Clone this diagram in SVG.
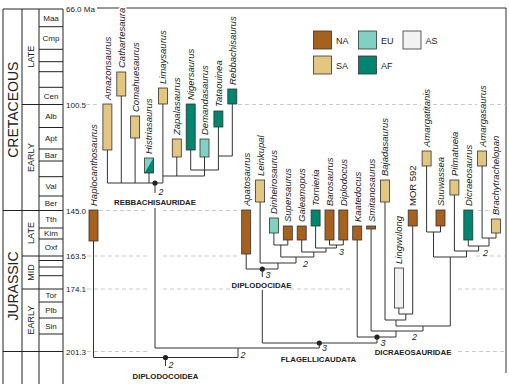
<svg xmlns="http://www.w3.org/2000/svg" width="509" height="386" viewBox="0 0 509 386">
<style>
.ln{stroke:#333;stroke-width:1;fill:none}
.ts{stroke:#222;stroke-width:1;fill:none}
.dash{stroke:#bbb;stroke-width:0.8;stroke-dasharray:4 3;fill:none}
.bar{stroke:#333;stroke-width:0.8}
.na{fill:#a6611e}.sa{fill:#e2c682}.eu{fill:#80d1c1}.af{fill:#00866f}.as{fill:#f2f2f2}
text{font-family:"Liberation Sans",Arial,sans-serif;fill:#222}
.tx{font-size:9.5px;font-style:italic;stroke:#fff;stroke-width:3;paint-order:stroke}
.mor{font-size:9.5px;stroke:#fff;stroke-width:3;paint-order:stroke}
.cl{font-size:7.8px;font-weight:bold;text-anchor:middle}
.num{font-size:9px;font-style:italic}
.age{font-size:8px;text-anchor:middle}
.ma{font-size:8px}
.ep{font-size:9px;text-anchor:middle}
.per{font-size:14px;text-anchor:middle}
.lg{font-size:9px}
</style>
<defs>
<circle id="dot" r="2.6" fill="#222"/>
</defs>
<rect width="509" height="386" fill="#fff"/>

<g id="timescale">
<path class="ts" d="M3 9V384M22 9V384M39 9V384M63 9V384M3 9H63M3 210.5H63M3 351.5H63M22 104.5H63M22 256H63M22 289H63"/>
<path class="ts" d="M39 26.7H63M39 49.3H63M39 61.7H63M39 71.7H63M39 87.3H63M39 127.5H63M39 149H63M39 161H63M39 176.7H63M39 196H63M39 228H63M39 239H63M39 260.5H63M39 267H63M39 275.7H63M39 302H63M39 318H63M39 334H63"/>
<text class="per" transform="translate(17.5,109.7) rotate(-90)">CRETACEOUS</text>
<text class="per" transform="translate(17.5,286) rotate(-90)">JURASSIC</text>
<text class="ep" transform="translate(33.7,56.7) rotate(-90)">LATE</text>
<text class="ep" transform="translate(33.7,157.5) rotate(-90)">EARLY</text>
<text class="ep" transform="translate(33.7,233) rotate(-90)">LATE</text>
<text class="ep" transform="translate(33.7,272.5) rotate(-90)">MID</text>
<text class="ep" transform="translate(33.7,320) rotate(-90)">EARLY</text>
<text class="age" x="51" y="20.5">Maa</text>
<text class="age" x="51" y="40.5">Cmp</text>
<text class="age" x="51" y="98.5">Cen</text>
<text class="age" x="51" y="118.5">Alb</text>
<text class="age" x="51" y="141">Apt</text>
<text class="age" x="51" y="157.5">Bar</text>
<text class="age" x="51" y="189">Val</text>
<text class="age" x="51" y="206">Ber</text>
<text class="age" x="51" y="222">Tth</text>
<text class="age" x="51" y="236">Kim</text>
<text class="age" x="51" y="250">Oxf</text>
<text class="age" x="51" y="298">Tor</text>
<text class="age" x="51" y="312.5">Plb</text>
<text class="age" x="51" y="328.5">Sin</text>
<text class="ma" x="66" y="11.5">66.0 Ma</text>
<text class="ma" x="66" y="107.5">100.5</text>
<text class="ma" x="66" y="213.5">145.0</text>
<text class="ma" x="66" y="259">163.5</text>
<text class="ma" x="66" y="292">174.1</text>
<text class="ma" x="66" y="354.5">201.3</text>
</g>

<g id="frame">
<path class="ln" d="M97 8H506V373"/>
<path class="dash" d="M86 104.5H98M238 104.5H421M433 104.5H477M490 104.5H506M99 210.5H147M163 210.5H237M478 210.5H488M87 256H147M163 256H237M476 256H506M87 289H147M163 289H237M283 289H352M458 289H506M87 351.5H147M458 351.5H506"/>
</g>

<g id="legend">
<rect class="bar na" x="313.5" y="31" width="18" height="18"/><text class="lg" x="336" y="43.5">NA</text>
<rect class="bar sa" x="313.5" y="56" width="18" height="18"/><text class="lg" x="336" y="68.5">SA</text>
<rect class="bar eu" x="358.5" y="31" width="18" height="18"/><text class="lg" x="381" y="43.5">EU</text>
<rect class="bar af" x="358.5" y="56" width="18" height="18"/><text class="lg" x="381" y="68.5">AF</text>
<rect class="bar as" x="403" y="31" width="18" height="18"/><text class="lg" x="425.5" y="43.5">AS</text>
</g>

<g id="connectors">
<path class="ln" d="M93.5 241V357.5H238M238 348V357.5M165.5 357.5V366"/>
<path class="ln" d="M107.4 150V183M121.3 96V183M135.1 138V183M149 173V183M162.9 104V183M107.4 183H162.9M155 183V193M155 208V348H319.3V343"/>
<path class="ln" d="M162.9 176H204.5M176.8 157V176M190.7 150V170M204.5 157V176M190.7 170H218.4M218.4 127V170M218.4 156H232.3M232.3 104V156"/>
<path class="ln" d="M246.2 254V269H278M262.3 269V277M262.3 290V343H377V337"/>
<path class="ln" d="M260.1 202V263H296M273.9 233V245H287.8M287.8 240V245M280.8 245V257M301.7 240V252M315.6 226V248M329.5 240V245H343.3V240M336.4 245V248M315.6 248H336.4M326 248V252M301.7 252H326M313.8 252V257M280.8 257H313.8M296 257V263M278 263V269"/>
<path class="ln" d="M357.2 240V337H396M371.1 229V331H423M396 331V337M385 202V320M398.9 308V314H412.7V226M405.8 314V320M385 320H405.8M396 320V326H450.3M423 326V331"/>
<path class="ln" d="M426.6 166V232H440.5V226M433.5 232V257M454.4 195V251M468.3 240V246M482.1 166V238H496V233M489 238V246M468.3 246H489M478.6 246V251M454.4 251H478.6M466.5 251V257M433.5 257H466.5M450.3 257V326"/>
</g>

<g id="nodes-dots">
<use href="#dot" x="155" y="183"/>
<use href="#dot" x="165.5" y="357.5"/>
<use href="#dot" x="262.3" y="269"/>
<use href="#dot" x="319.3" y="343"/>
<use href="#dot" x="377" y="337"/>
</g>

<g id="clade-labels">
<text class="cl" x="155" y="204.5">REBBACHISAURIDAE</text>
<text class="cl" x="261.5" y="287.5">DIPLODOCIDAE</text>
<text class="cl" x="318.5" y="361.5">FLAGELLICAUDATA</text>
<text class="cl" x="413" y="355">DICRAEOSAURIDAE</text>
<text class="cl" x="165.5" y="378.5">DIPLODOCOIDEA</text>
<text class="num" x="158.5" y="194.5">2</text>
<text class="num" x="168.5" y="367.5">2</text>
<text class="num" x="240.5" y="358">2</text>
<text class="num" x="265.5" y="277.5">3</text>
<text class="num" x="322" y="351">3</text>
<text class="num" x="380.5" y="346">3</text>
<text class="num" x="412" y="340">2</text>
<text class="num" x="483" y="255.5">2</text>
<text class="num" x="339" y="255">3</text>
<text class="num" x="303" y="267">2</text>
</g>

<g id="n-haplocanthosaurus"><rect class="bar na" x="89" y="210" width="9" height="31"/><text class="tx" transform="translate(96.9,206) rotate(-90)">Haplocanthosaurus</text></g>
<g id="n-amazonsaurus"><rect class="bar sa" x="102.9" y="104" width="9" height="46"/><text class="tx" transform="translate(110.8,100) rotate(-90)">Amazonsaurus</text></g>
<g id="n-cathartesaura"><rect class="bar sa" x="116.8" y="72" width="9" height="24"/><text class="tx" transform="translate(124.7,68) rotate(-90)">Cathartesaura</text></g>
<g id="n-comahuesaurus"><rect class="bar sa" x="130.6" y="116" width="9" height="22"/><text class="tx" transform="translate(138.5,112) rotate(-90)">Comahuesaurus</text></g>
<g id="n-histriasaurus"><rect class="eu" x="144.5" y="158" width="9" height="15"/><polygon class="af" points="144.5,173 153.5,158 153.5,173"/><rect class="bar" fill="none" x="144.5" y="158" width="9" height="15"/><text class="tx" transform="translate(152.4,154) rotate(-90)">Histriasaurus</text></g>
<g id="n-limaysaurus"><rect class="bar sa" x="158.4" y="88" width="9" height="16"/><text class="tx" transform="translate(166.3,84) rotate(-90)">Limaysaurus</text></g>
<g id="n-zapalasaurus"><rect class="bar sa" x="172.3" y="139" width="9" height="18"/><text class="tx" transform="translate(180.2,135) rotate(-90)">Zapalasaurus</text></g>
<g id="n-nigersaurus"><rect class="bar af" x="186.2" y="104" width="9" height="46"/><text class="tx" transform="translate(194.1,100) rotate(-90)">Nigersaurus</text></g>
<g id="n-demandasaurus"><rect class="bar eu" x="200" y="139" width="9" height="18"/><text class="tx" transform="translate(207.9,135) rotate(-90)">Demandasaurus</text></g>
<g id="n-tataouinea"><rect class="bar af" x="213.9" y="111" width="9" height="16"/><text class="tx" transform="translate(221.8,107) rotate(-90)">Tataouinea</text></g>
<g id="n-rebbachisaurus"><rect class="bar af" x="227.8" y="89" width="9" height="15"/><text class="tx" transform="translate(235.7,85) rotate(-90)">Rebbachisaurus</text></g>
<g id="n-apatosaurus"><rect class="bar na" x="241.7" y="210" width="9" height="44"/><text class="tx" transform="translate(249.6,206) rotate(-90)">Apatosaurus</text></g>
<g id="n-leinkupal"><rect class="bar sa" x="255.6" y="180" width="9" height="22"/><text class="tx" transform="translate(263.5,176) rotate(-90)">Leinkupal</text></g>
<g id="n-dinheirosaurus"><rect class="bar eu" x="269.4" y="218" width="9" height="15"/><text class="tx" transform="translate(277.3,214) rotate(-90)">Dinheirosaurus</text></g>
<g id="n-supersaurus"><rect class="bar na" x="283.3" y="226" width="9" height="14"/><text class="tx" transform="translate(291.2,222) rotate(-90)">Supersaurus</text></g>
<g id="n-galeamopus"><rect class="bar na" x="297.2" y="226" width="9" height="14"/><text class="tx" transform="translate(305.1,222) rotate(-90)">Galeamopus</text></g>
<g id="n-tornieria"><rect class="bar af" x="311.1" y="210" width="9" height="16"/><text class="tx" transform="translate(319,206) rotate(-90)">Tornieria</text></g>
<g id="n-barosaurus"><rect class="bar na" x="325" y="210" width="9" height="30"/><text class="tx" transform="translate(332.9,206) rotate(-90)">Barosaurus</text></g>
<g id="n-diplodocus"><rect class="bar na" x="338.8" y="210" width="9" height="30"/><text class="tx" transform="translate(346.7,206) rotate(-90)">Diplodocus</text></g>
<g id="n-kaatedocus"><rect class="bar na" x="352.7" y="226" width="9" height="14"/><text class="tx" transform="translate(360.6,222) rotate(-90)">Kaatedocus</text></g>
<g id="n-smitanosaurus"><rect class="bar na" x="366.6" y="226" width="9" height="3"/><text class="tx" transform="translate(374.5,222) rotate(-90)">Smitanosaurus</text></g>
<g id="n-bajadasaurus"><rect class="bar sa" x="380.5" y="180" width="9" height="22"/><text class="tx" transform="translate(388.4,176) rotate(-90)">Bajadasaurus</text></g>
<g id="n-lingwulong"><rect class="bar as" x="394.4" y="268" width="9" height="40"/><text class="tx" transform="translate(402.3,264) rotate(-90)">Lingwulong</text></g>
<g id="n-mor592"><rect class="bar na" x="408.2" y="210" width="9" height="16"/><text class="mor" transform="translate(416.1,206) rotate(-90)">MOR 592</text></g>
<g id="n-amargatitanis"><rect class="bar sa" x="422.1" y="151" width="9" height="15"/><text class="tx" transform="translate(430,147) rotate(-90)">Amargatitanis</text></g>
<g id="n-suuwassea"><rect class="bar na" x="436" y="210" width="9" height="16"/><text class="tx" transform="translate(443.9,206) rotate(-90)">Suuwassea</text></g>
<g id="n-pilmatueia"><rect class="bar sa" x="449.9" y="180" width="9" height="15"/><text class="tx" transform="translate(457.8,176) rotate(-90)">Pilmatueia</text></g>
<g id="n-dicraeosaurus"><rect class="bar af" x="463.8" y="210" width="9" height="30"/><text class="tx" transform="translate(471.7,206) rotate(-90)">Dicraeosaurus</text></g>
<g id="n-amargasaurus"><rect class="bar sa" x="477.6" y="151" width="9" height="15"/><text class="tx" transform="translate(485.5,147) rotate(-90)">Amargasaurus</text></g>
<g id="n-brachytrachelopan"><rect class="bar sa" x="491.5" y="219" width="9" height="14"/><text class="tx" transform="translate(499.4,215) rotate(-90)">Brachytrachelopan</text></g>
</svg>
